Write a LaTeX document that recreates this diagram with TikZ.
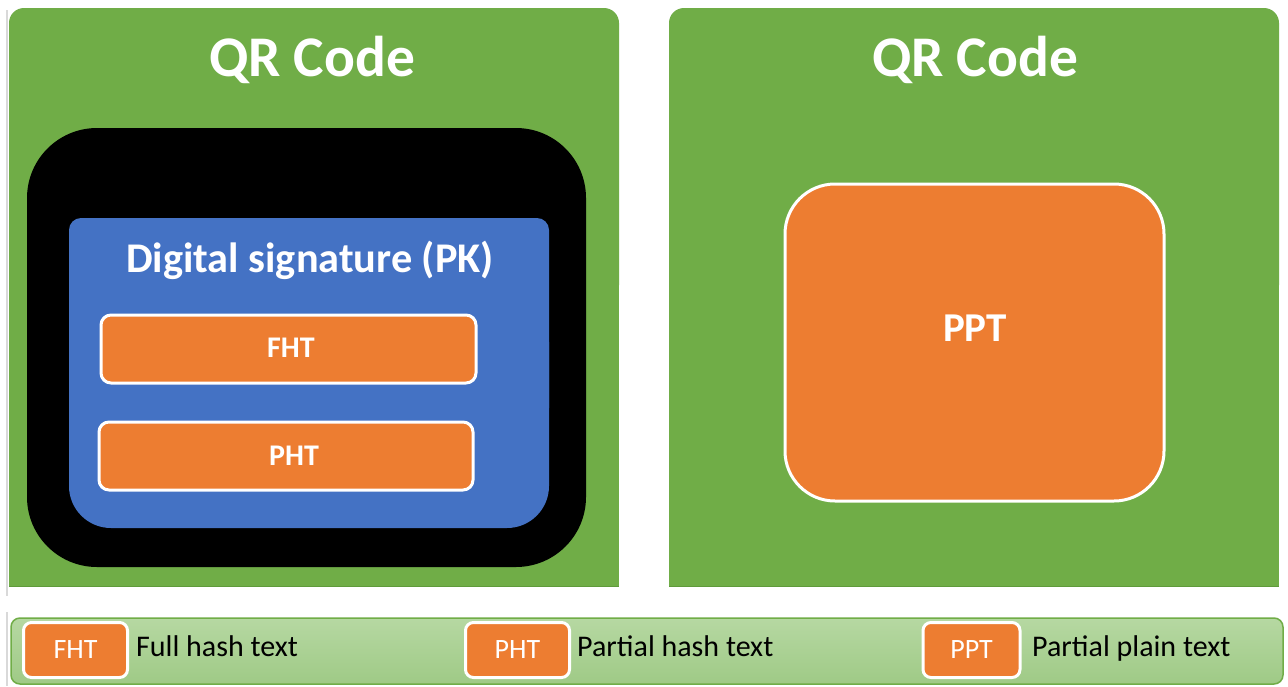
\documentclass[tikz,border=0pt]{standalone}
\usepackage{fontspec}
\setmainfont{Carlito}
\definecolor{qgreen}{HTML}{70AD47}
\definecolor{qdkgreen}{HTML}{5F9A3B}
\definecolor{qorange}{HTML}{ED7D31}
\definecolor{qblue}{HTML}{4472C4}
\definecolor{qlgtop}{HTML}{B6D8A2}
\definecolor{qlgbot}{HTML}{9FCA86}
\tikzset{
  hashbox/.style={draw=white, line width=3pt, fill=qorange, rounded corners=10pt, text=white, font=\bfseries\fontsize{30}{32}\selectfont, inner sep=0pt},
  legbox/.style={draw=white, line width=3pt, fill=qorange, rounded corners=8pt, text=white, font=\fontsize{28}{30}\selectfont, inner sep=0pt, minimum height=55pt},
  legtext/.style={anchor=base west, text=black, font=\fontsize{30}{32}\selectfont, inner sep=0pt},
  title/.style={text=white, font=\bfseries\fontsize{57.5}{60}\selectfont, inner sep=0pt},
}
\begin{document}
\begin{tikzpicture}[x=1pt,y=-1pt]
\useasboundingbox (0,0) rectangle (1288,686);
\fill[white] (0,0) rectangle (1288,686);
% page edge artifact
\draw[black!15, line width=1.5pt] (7,10) -- (7,596);
\draw[black!15, line width=1.5pt] (7,612) -- (7,686);
% left green panel
\fill[qgreen, rounded corners=15pt] (9,8) rectangle (619,300);
\fill[qgreen] (9,100) rectangle (619,586);
\draw[qdkgreen, line width=1pt] (9,586) -- (619,586);
% right green panel
\fill[qgreen, rounded corners=15pt] (669,8) rectangle (1279,300);
\fill[qgreen] (669,100) rectangle (1279,586);
\draw[qdkgreen, line width=1pt] (669,586) -- (1279,586);
\node[title] (t1) at (312,60) {QR Code};
\node[title] (t2) at (975,60) {QR Code};
% black box
\fill[black, rounded corners=70pt] (27,128) rectangle (586,567);
% blue box
\fill[qblue, rounded corners=12pt] (69,218) rectangle (549,420);
\fill[qblue, rounded corners=42pt] (69,300) rectangle (549,528);
\node[text=white, font=\bfseries\fontsize{42.3}{44}\selectfont, inner sep=0pt] (ds) at (310,260) {Digital signature (PK)};
\node[hashbox, minimum width=375pt, minimum height=68pt] (fht) at (288.5,349) {};
\node[text=white, font=\bfseries\fontsize{30}{32}\selectfont, inner sep=0pt] (fhtl) at (291,348) {FHT};
\node[hashbox, minimum width=374pt, minimum height=68pt] (pht) at (286,456) {};
\node[text=white, font=\bfseries\fontsize{30}{32}\selectfont, inner sep=0pt] (phtl) at (294,456) {PHT};
% PPT
\node[hashbox, rounded corners=50pt, minimum width=379pt, minimum height=317pt] (ppt) at (974.5,342.5) {};
\node[text=white, font=\bfseries\fontsize{41}{43}\selectfont, inner sep=0pt] (pptl) at (975,328) {PPT};
% legend
\shade[top color=qlgtop, bottom color=qlgbot, rounded corners=9pt] (11,618) rectangle (1283,684);
\draw[qgreen, line width=1.5pt, rounded corners=9pt] (11,618) rectangle (1283,684);
\node[legbox, minimum width=104pt] (l1) at (75.5,650) {FHT};
\node[legtext] (l1t) at (136,656) {Full hash text};
\node[legbox, minimum width=104pt] (l2) at (517.5,650) {PHT};
\node[legtext] (l2t) at (577,656) {Partial hash text};
\node[legbox, minimum width=97pt] (l3) at (971.5,650) {PPT};
\node[legtext] (l3t) at (1032,656) {Partial plain text};
\end{tikzpicture}
\end{document}
